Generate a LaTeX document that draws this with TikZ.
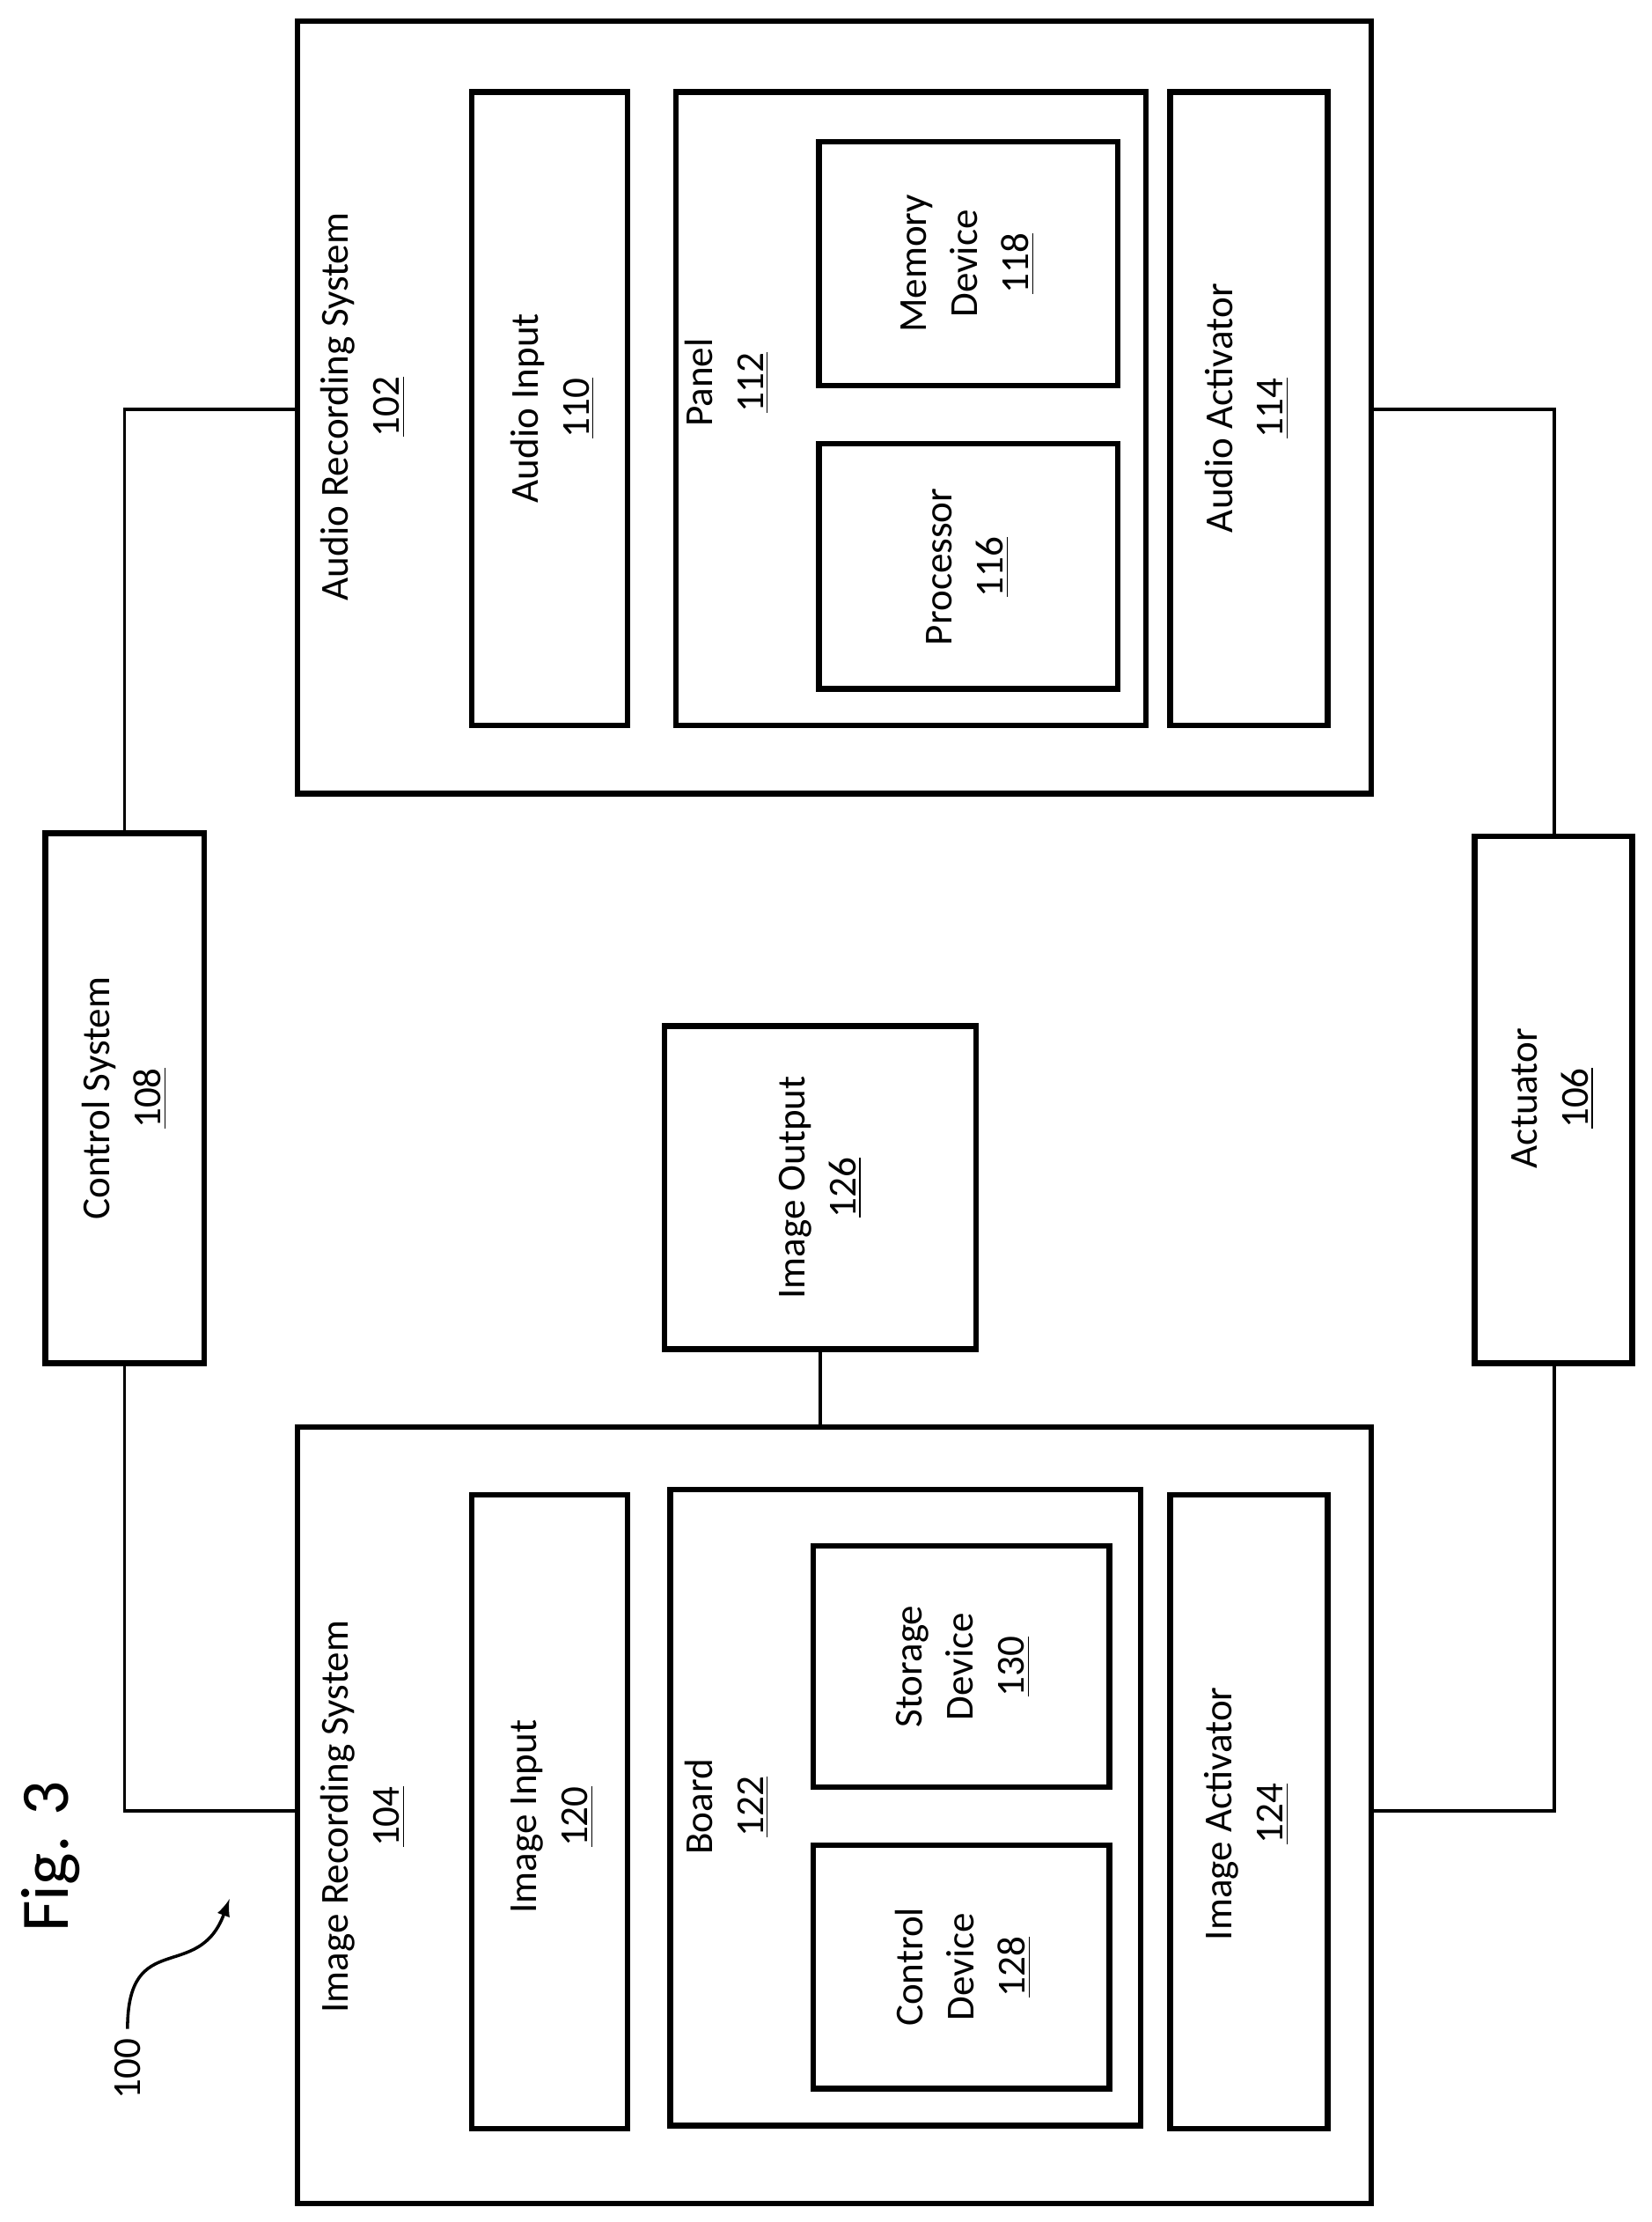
\documentclass[tikz,border=0pt]{standalone}
\usepackage{fontspec}
\setmainfont{Carlito}
\begin{document}
\begin{tikzpicture}[x=0.5pt,y=-0.5pt,
	box/.style={draw, line width=2pt},
	lbl/.style={rotate=90, align=center, font=\fontsize{14}{18}\selectfont},
	wire/.style={line width=1.1pt}]
	\useasboundingbox (0,0) rectangle (1166,1568);
	% Audioteil
	\draw [box] (210,15) rectangle (968,560);
	\draw [box] (333,65) rectangle (443,512);
	\draw [box] (477,65) rectangle (809,512);
	\draw [box] (578,100) rectangle (789,272);
	\draw [box] (578,313) rectangle (789,486);
	\draw [box] (826,65) rectangle (937,512);
	\node [lbl] (audiosys) at (256,287) {Audio Recording System\\\underline{102}};
	\node [lbl] (audioin) at (390,288) {Audio Input\\\underline{110}};
	\node [lbl] (panel) at (513,270) {Panel\\\underline{112}};
	\node [lbl] (memory) at (683,186) {Memory\\Device\\\underline{118}};
	\node [lbl] (proc) at (683,400) {Processor\\\underline{116}};
	\node [lbl] (audioact) at (880,288) {Audio Activator\\\underline{114}};
	% Seitliche Bloecke
	\draw [box] (32,588) rectangle (144,962);
	\draw [box] (1041,590) rectangle (1152,962);
	\draw [box] (469,724) rectangle (689,952);
	\node [lbl] (ctrl) at (88,775) {Control System\\\underline{108}};
	\node [lbl] (act) at (1096,775) {Actuator\\\underline{106}};
	\node [lbl] (imgout) at (579,838) {Image Output\\\underline{126}};
	% Bildteil
	\draw [box] (210,1007) rectangle (968,1555);
	\draw [box] (333,1055) rectangle (443,1502);
	\draw [box] (473,1051) rectangle (805,1500);
	\draw [box] (574,1091) rectangle (783,1261);
	\draw [box] (574,1302) rectangle (783,1474);
	\draw [box] (826,1055) rectangle (937,1502);
	\node [lbl] (imgsys) at (256,1282) {Image Recording System\\\underline{104}};
	\node [lbl] (imgin) at (390,1282) {Image Input\\\underline{120}};
	\node [lbl] (board) at (513,1275) {Board\\\underline{122}};
	\node [lbl] (storage) at (680,1176) {Storage\\Device\\\underline{130}};
	\node [lbl] (ctrldev) at (680,1388) {Control\\Device\\\underline{128}};
	\node [lbl] (imgact) at (880,1280) {Image Activator\\\underline{124}};
	% Verbindungen
	\draw [wire] (88,588) -- (88,289) -- (209,289);
	\draw [wire] (88,962) -- (88,1278) -- (209,1278);
	\draw [wire] (969,289) -- (1097,289) -- (1097,590);
	\draw [wire] (1097,962) -- (1097,1278) -- (969,1278);
	\draw [wire] (579,952) -- (579,1007);
	% Beschriftung
	\node [rotate=90, font=\fontsize{24}{28}\selectfont] (fig) at (36,1310) {Fig. 3};
	\node [rotate=90, font=\fontsize{14}{18}\selectfont] (ref) at (90,1460) {100};
	\coordinate (tip) at (162,1340);
	\draw [wire, -latex] (ref.east) .. controls (90,1360) and (140,1400) .. (tip);
\end{tikzpicture}
\end{document}
